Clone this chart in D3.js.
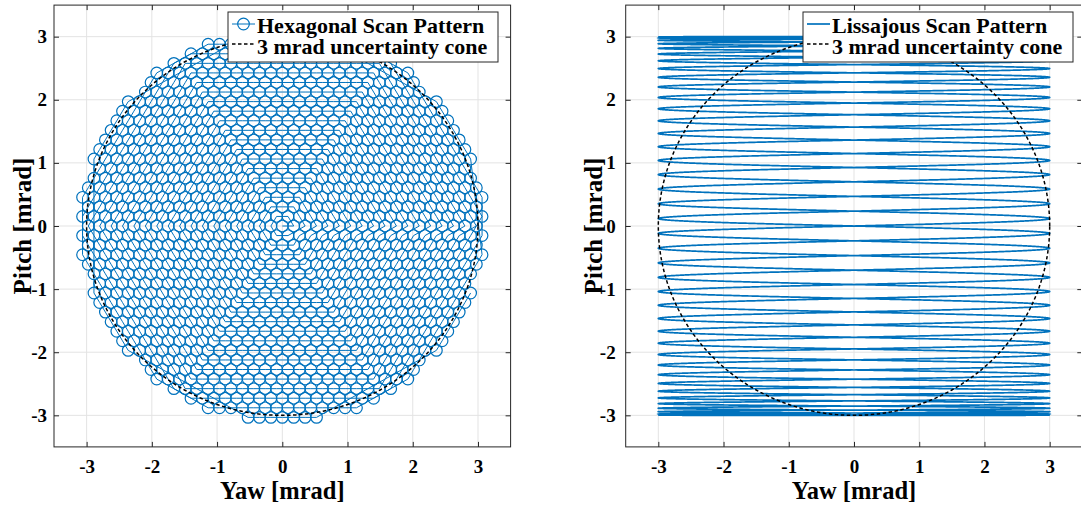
<!DOCTYPE html>
<html>
<head>
<meta charset="utf-8">
<script src="https://cdn.jsdelivr.net/npm/d3@7"></script>
<style>
  html, body { margin: 0; padding: 0; background: #fff; }
  svg { display: block; }
  text { font-family: "Liberation Serif", "Times New Roman", serif; font-weight: bold; fill: #000; }
</style>
</head>
<body>
<svg id="fig" width="1081" height="509"></svg>
<script>
// ---- chart values -------------------------------------------------------
const axisTicks   = [-3, -2, -1, 0, 1, 2, 3];          // mrad
const axisDomain  = [-3.5, 3.5];                       // mrad, both axes
const coneRadius  = 3;                                 // mrad
const xLabel      = "Yaw [mrad]";
const yLabel      = "Pitch [mrad]";
const legendHex   = ["Hexagonal Scan Pattern", "3 mrad uncertainty cone"];
const legendLiss  = ["Lissajous Scan Pattern", "3 mrad uncertainty cone"];

// hexagonal spiral scan: spot pitch, row step, clipping radius, ring count
const hexPitch    = 0.175;   // mrad between neighbouring spots in a row
const hexRowStep  = 0.1516;  // mrad between rows
const hexClip     = 3.1;     // mrad, spots beyond this are not visited
const hexRings    = 21;

// Lissajous scan: amplitudes and number of cycles per frame on each axis
const lissAmp     = [3, 3];  // mrad (yaw, pitch)
const lissCycles  = [40, 1]; // yaw cycles, pitch cycles
const lissSamples = 24000;

// ---- scan geometry --------------------------------------------------------
// hexagonal spiral: ring n starts at the right vertex and runs counter-clockwise
function hexSpiral() {
  const dirs = [[-1, 1], [-1, 0], [0, -1], [1, -1], [1, 0], [0, 1]]; // axial steps
  const pts = [[0, 0]];
  for (let n = 1; n <= hexRings; n++) {
    let q = n, r = 0;
    for (const [dq, dr] of dirs) {
      for (let j = 0; j < n; j++) {
        pts.push([q, r]);
        q += dq; r += dr;
      }
    }
  }
  return pts
    .map(([q, r]) => [(q + r / 2) * hexPitch, r * hexRowStep])
    .filter(([x, y]) => Math.hypot(x, y) <= hexClip);
}

function lissajous() {
  const pts = [];
  for (let i = 0; i <= lissSamples; i++) {
    const t = i / lissSamples;
    pts.push([lissAmp[0] * Math.sin(2 * Math.PI * lissCycles[0] * t),
              lissAmp[1] * Math.sin(2 * Math.PI * lissCycles[1] * t)]);
  }
  return pts;
}

function cone() {
  return d3.range(0, 361).map(a => {
    const th = a * Math.PI / 180;
    return [coneRadius * Math.cos(th), coneRadius * Math.sin(th)];
  });
}

// ---- drawing --------------------------------------------------------------
const svg = d3.select("#fig");
const BLUE = "#0072BD";

const panels = [
  { kind: "hex",  x: [54, 510.6],     y: [5.1, 446.9], legend: legendHex,
    legendBox: [228, 12, 270, 50], yTickPad: 7, yLabelX: 31 },
  { kind: "liss", x: [625.7, 1082.3], y: [5.1, 446.9], legend: legendLiss,
    legendBox: [803, 12, 270, 50], yTickPad: 10, yLabelX: 602 }
];

panels.forEach((p, i) => {
  const xs = d3.scaleLinear().domain(axisDomain).range(p.x);
  const ys = d3.scaleLinear().domain(axisDomain).range([p.y[1], p.y[0]]);
  const g = svg.append("g");
  const clipId = "clip" + i;
  svg.append("clipPath").attr("id", clipId).append("rect")
    .attr("x", p.x[0]).attr("y", p.y[0])
    .attr("width", p.x[1] - p.x[0]).attr("height", p.y[1] - p.y[0]);

  // grid
  const grid = g.append("g").attr("stroke", "#e3e3e3").attr("stroke-width", 1);
  axisTicks.forEach(t => {
    grid.append("line").attr("x1", xs(t)).attr("x2", xs(t))
      .attr("y1", p.y[0]).attr("y2", p.y[1]);
    grid.append("line").attr("y1", ys(t)).attr("y2", ys(t))
      .attr("x1", p.x[0]).attr("x2", p.x[1]);
  });

  const plot = g.append("g").attr("clip-path", `url(#${clipId})`);
  const line = d3.line().x(d => xs(d[0])).y(d => ys(d[1]));

  if (p.kind === "hex") {
    const pts = hexSpiral();
    plot.append("path").datum(pts).attr("d", line)
      .attr("fill", "none").attr("stroke", BLUE).attr("stroke-width", 1);
    plot.append("g").selectAll("circle").data(pts).join("circle")
      .attr("cx", d => xs(d[0])).attr("cy", d => ys(d[1])).attr("r", 5.8)
      .attr("fill", "none").attr("stroke", BLUE).attr("stroke-width", 1.2);
  } else {
    plot.append("path").datum(lissajous()).attr("d", line)
      .attr("fill", "none").attr("stroke", BLUE).attr("stroke-width", 1.7);
  }

  plot.append("path").datum(cone()).attr("d", line)
    .attr("fill", "none").attr("stroke", "#000").attr("stroke-width", 1.5)
    .attr("stroke-dasharray", "3.5,2.5");

  // axes with inward ticks on all four sides
  const fmt = d => String(d);
  const styleAxis = sel => {
    sel.select(".domain").remove();
    sel.selectAll(".tick line").attr("stroke", "#262626").attr("stroke-width", 1);
    sel.selectAll(".tick text").attr("font-size", 19)
      .attr("font-family", "Liberation Serif").attr("font-weight", "bold").attr("fill", "#000");
  };
  g.append("g").attr("transform", `translate(0,${p.y[1]})`)
    .call(d3.axisBottom(xs).tickValues(axisTicks).tickFormat(fmt).tickSize(-5).tickPadding(13))
    .call(styleAxis);
  g.append("g").attr("transform", `translate(0,${p.y[0]})`)
    .call(d3.axisTop(xs).tickValues(axisTicks).tickFormat("").tickSize(-5))
    .call(styleAxis);
  g.append("g").attr("transform", `translate(${p.x[0]},0)`)
    .call(d3.axisLeft(ys).tickValues(axisTicks).tickFormat(fmt).tickSize(-5).tickPadding(p.yTickPad))
    .call(styleAxis);
  g.append("g").attr("transform", `translate(${p.x[1]},0)`)
    .call(d3.axisRight(ys).tickValues(axisTicks).tickFormat("").tickSize(-5))
    .call(styleAxis);
  g.append("rect").attr("x", p.x[0]).attr("y", p.y[0])
    .attr("width", p.x[1] - p.x[0]).attr("height", p.y[1] - p.y[0])
    .attr("fill", "none").attr("stroke", "#262626").attr("stroke-width", 1);

  // axis titles
  const cx = (p.x[0] + p.x[1]) / 2, cy = (p.y[0] + p.y[1]) / 2;
  g.append("text").attr("x", cx).attr("y", 499).attr("text-anchor", "middle")
    .attr("font-size", 24.5).text(xLabel);
  g.append("text").attr("transform", `translate(${p.yLabelX},${cy}) rotate(-90)`)
    .attr("text-anchor", "middle").attr("font-size", 25).text(yLabel);

  // legend
  const [lx, ly, lw, lh] = p.legendBox;
  const lg = g.append("g");
  lg.append("rect").attr("x", lx).attr("y", ly).attr("width", lw).attr("height", lh)
    .attr("fill", "#fff").attr("stroke", "#262626").attr("stroke-width", 1);
  lg.append("line").attr("x1", lx + 4).attr("x2", lx + 27).attr("y1", ly + 12).attr("y2", ly + 12)
    .attr("stroke", BLUE).attr("stroke-width", p.kind === "hex" ? 1 : 1.7);
  if (p.kind === "hex") {
    lg.append("circle").attr("cx", lx + 15.5).attr("cy", ly + 12).attr("r", 5.8)
      .attr("fill", "none").attr("stroke", BLUE).attr("stroke-width", 1.2);
  }
  lg.append("line").attr("x1", lx + 4).attr("x2", lx + 27).attr("y1", ly + 32).attr("y2", ly + 32)
    .attr("stroke", "#000").attr("stroke-width", 1.5).attr("stroke-dasharray", "3.5,2.5");
  lg.append("text").attr("x", lx + 29).attr("y", ly + 20.5).attr("font-size", 22).text(p.legend[0]);
  lg.append("text").attr("x", lx + 29).attr("y", ly + 41.5).attr("font-size", 22).text(p.legend[1]);
});
</script>
</body>
</html>
